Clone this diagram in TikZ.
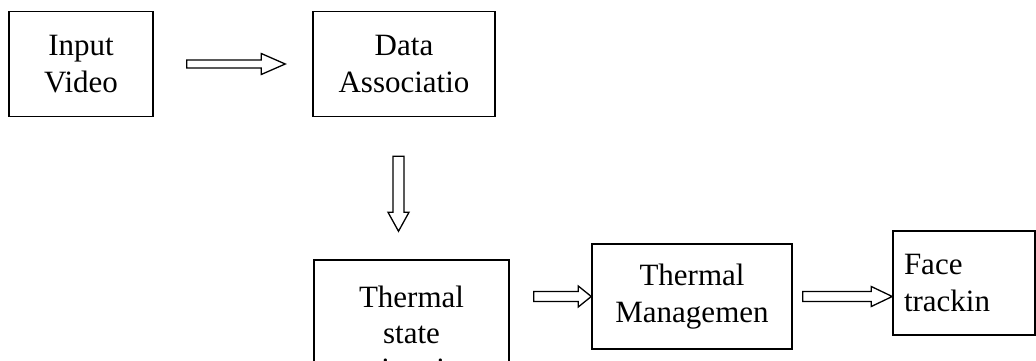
\documentclass[tikz,border=0pt]{standalone}
\usepackage{fontspec}
\setmainfont{Liberation Serif}
\usetikzlibrary{calc}
\tikzset{
  headlen/.store in=\ahl, shaftw/.store in=\asw, headw/.store in=\ahw,
  headlen=20pt, shaftw=5pt, headw=10.5pt,
  rarrow/.style={draw, line width=1.3pt, to path={let \p1=(\tikztostart), \p2=(\tikztotarget) in
    (\x1,\y1+\asw) -- (\x2-\ahl,\y1+\asw) -- (\x2-\ahl,\y1+\ahw) -- (\x2,\y1)
    -- (\x2-\ahl,\y1-\ahw) -- (\x2-\ahl,\y1-\asw) -- (\x1,\y1-\asw) -- cycle}},
  darrow/.style={draw, line width=1.3pt, to path={let \p1=(\tikztostart), \p2=(\tikztotarget) in
    (\x1-\asw,\y1) -- (\x1-\asw,\y2+\ahl) -- (\x1-\ahw,\y2+\ahl) -- (\x1,\y2)
    -- (\x1+\ahw,\y2+\ahl) -- (\x1+\asw,\y2+\ahl) -- (\x1+\asw,\y1) -- cycle}}
}
\begin{document}
\begin{tikzpicture}
  [x=1pt,y=-1pt,every node/.style={draw,line width=1.5pt,inner sep=0pt,align=center,
   font=\fontsize{31}{37}\selectfont}]
  \useasboundingbox (0,0) rectangle (1036,361);
  \clip (0,0) rectangle (1036,361);
  \node (in)[minimum width=144,minimum height=105] at (81,64) {Input\\Video};
  \node (da)[minimum width=182,minimum height=105] at (404,64) {Data\\Associatio};
  \node (ts)[minimum width=195,minimum height=146,font=\fontsize{31}{36}\selectfont] at (411.5,333) {Thermal\\state\\estimation};
  \node (tm)[minimum width=200,minimum height=105] at (692,296.5) {Thermal\\Managemen};
  \node (fc)[minimum width=142,minimum height=104,text width=120,align=left] at (964,283) {Face\\trackin};
  % block arrows
  \draw[rarrow,headlen=24pt,shaftw=4pt] ($(in.east)+(33,0)$) to ($(da.west)+(-27,0)$);
  \draw[darrow,headlen=19pt,shaftw=5.5pt] ($(da.south)+(-5.5,39)$) to ($(ts.north)+(0,-28)$);
  \draw[rarrow,headlen=13pt] ($(ts.east |- tm.west)+(24,0)$) to (tm.west);
  \draw[rarrow,headlen=21pt,headw=10pt] ($(tm.east)+(10,0)$) to (fc.west);
\end{tikzpicture}
\end{document}
